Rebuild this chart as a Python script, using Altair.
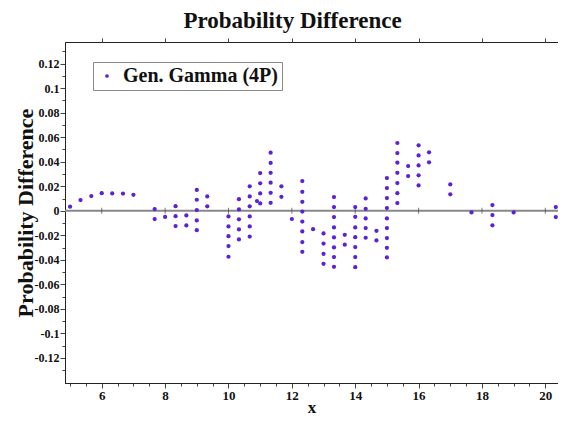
import altair as alt
import pandas as pd

# column x positions and the probability-difference values in each column
col_x = [5.0, 5.33, 5.67, 6.0, 6.33, 6.67, 7.0, 7.67, 8.0, 8.33, 8.67, 9.0, 9.33,
         10.0, 10.33, 10.67, 10.9, 11.0, 11.33, 11.67, 12.0, 12.33, 12.67, 13.0,
         13.33, 13.67, 14.0, 14.33, 14.67, 15.0, 15.33, 15.67, 16.0, 16.33, 17.0,
         17.67, 18.33, 19.0, 20.33]
col_y = [
    [0.0033], [0.0087], [0.012], [0.0144], [0.0142], [0.014], [0.013],
    [0.0014, -0.0068], [-0.005], [0.0038, -0.0044, -0.0125], [-0.0038, -0.012],
    [0.017, 0.009, 0.0006, -0.0079, -0.0158], [0.0117, 0.0036],
    [-0.0046, -0.0128, -0.0207, -0.0288, -0.0375],
    [0.0095, 0.0011, -0.007, -0.0152, -0.0234],
    [0.02, 0.0117, 0.0036, -0.0046, -0.0128, -0.021],
    [0.0079],
    [0.0308, 0.0224, 0.0142, 0.006],
    [0.0474, 0.039, 0.031, 0.0229, 0.0147, 0.0065],
    [0.02, 0.0114],
    [-0.0067],
    [0.0242, 0.0155, 0.0073, -0.0006, -0.0088, -0.0168, -0.0255, -0.0335],
    [-0.015],
    [-0.0185, -0.0267, -0.0351, -0.0433],
    [0.0112, 0.003, -0.0051, -0.0136, -0.0217, -0.0299, -0.0378, -0.0457],
    [-0.0196, -0.0277],
    [0.003, -0.0049, -0.0136, -0.0215, -0.0296, -0.0378, -0.046],
    [0.0101, 0.0016, -0.0062, -0.0141, -0.022],
    [-0.0163, -0.0242],
    [0.0267, 0.0185, 0.0104, 0.0022, -0.0062, -0.0141, -0.0223, -0.0302, -0.0381],
    [0.0553, 0.0471, 0.0392, 0.031, 0.0226, 0.0144, 0.0063],
    [0.0365, 0.0283],
    [0.0534, 0.0452, 0.037, 0.0289, 0.0207],
    [0.0477, 0.0395],
    [0.0215, 0.0134],
    [-0.0013],
    [0.0047, -0.0035, -0.0119],
    [-0.0013],
    [0.003, -0.0051],
]
series_name = "Gen. Gamma (4P)"

x_major = [6, 8, 10, 12, 14, 16, 18, 20]
x_ticks = [5 + 0.5 * i for i in range(31)]
y_ticks = [round(-0.13 + 0.01 * i, 2) for i in range(27)]

rows = []
for xv, ys in zip(col_x, col_y):
    for yv in ys:
        rows.append({"x": xv, "y": yv, "series": series_name})
df = pd.DataFrame(rows)

FONT = "Liberation Serif"
PURPLE = "#5b22d6"

xscale = alt.Scale(domain=[4.84, 20.4], nice=False, zero=False)
yscale = alt.Scale(domain=[-0.1405, 0.1377], nice=False, zero=False)

major_x_test = "datum.value % 2 === 0"
major_y_test = "abs(round(datum.value*100)) % 2 === 0"

x_axis = alt.Axis(values=x_ticks, labelExpr=f"{major_x_test} ? datum.value : ''",
                  tickSize={"condition": {"test": major_x_test, "value": 5}, "value": 3},
                  grid=False, domainColor="#222", tickColor="#444",
                  labelFont=FONT, labelFontWeight="bold", labelFontSize=13,
                  labelColor="#111", labelPadding=1,
                  title="x", titleFont=FONT, titleFontWeight="bold", titleFontSize=17,
                  titleColor="#111", titlePadding=-3, labelFlush=False)
y_axis = alt.Axis(values=y_ticks,
                  labelExpr=f"{major_y_test} ? toString(round(datum.value*100)/100) : ''",
                  tickSize={"condition": {"test": major_y_test, "value": 5}, "value": 3},
                  grid=False, domainColor="#222", tickColor="#444",
                  labelFont=FONT, labelFontWeight="bold", labelFontSize=12,
                  labelColor="#111", labelPadding=1,
                  title="Probability Difference", titleFont=FONT, titleFontWeight="bold",
                  titleFontSize=22, titleColor="#111", titlePadding=-3, labelFlush=False)

points = alt.Chart(df).mark_circle(size=18, opacity=1).encode(
    x=alt.X("x:Q", scale=xscale, axis=x_axis),
    y=alt.Y("y:Q", scale=yscale, axis=y_axis),
    color=alt.Color("series:N", scale=alt.Scale(range=[PURPLE]),
                    legend=alt.Legend(title=None, orient="none", legendX=28, legendY=20,
                                      labelFont=FONT, labelFontWeight="bold",
                                      labelFontSize=20, labelColor="#111",
                                      symbolSize=14, symbolType="circle",
                                      strokeColor="#888", padding=4,
                                      labelLimit=300, symbolOffset=0, labelOffset=6)),
)

zero_df = pd.DataFrame({"y": [0]})
zero_line = alt.Chart(zero_df).mark_rule(color="#888", strokeWidth=2).encode(
    y=alt.Y("y:Q", scale=yscale, axis=None)
)

tick_df = pd.DataFrame({"x": x_major, "y": [0] * len(x_major)})
zero_ticks = alt.Chart(tick_df).mark_tick(orient="vertical", size=6, color="#444",
                                          thickness=1).encode(
    x=alt.X("x:Q", scale=xscale,
            axis=alt.Axis(orient="top", values=x_major, labels=False, title=None,
                          tickSize=4, tickColor="#444", domain=False, grid=False)),
    y=alt.Y("y:Q", scale=yscale,
            axis=alt.Axis(orient="right", values=y_ticks, labels=False, title=None,
                          tickSize=3, tickColor="#666", domain=False, grid=False)),
)

chart = alt.layer(zero_line, zero_ticks, points).resolve_axis(
    x="independent", y="independent"
).properties(
    width=493, height=341,
    title=alt.TitleParams("Probability Difference", font=FONT, fontSize=23,
                          fontWeight="bold", color="#111", offset=5, anchor="middle",
                          dx=-19),
    autosize=alt.AutoSizeParams(type="none"),
    padding={"left": 57, "top": 34, "right": 0, "bottom": 33},
).configure_view(stroke="#222", strokeWidth=1)

chart.save("out.html", embed_options={"renderer": "svg", "actions": False})
